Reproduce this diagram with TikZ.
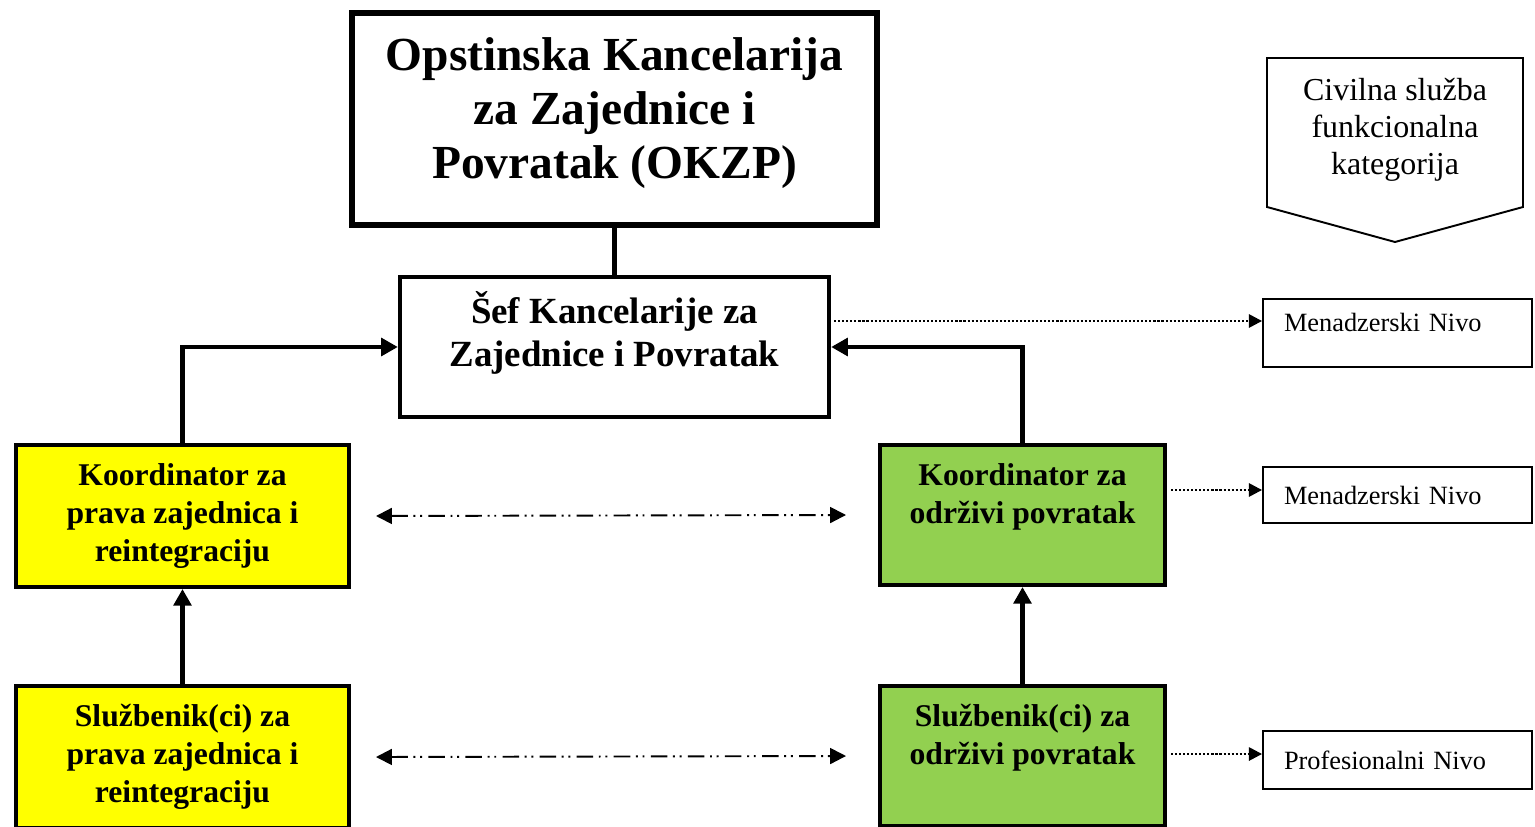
\documentclass[tikz,border=0pt]{standalone}
\usepackage{fontspec}
\setmainfont{Liberation Serif}
\usetikzlibrary{arrows.meta}
\definecolor{pravayellow}{RGB}{255,255,0}
\definecolor{povratakgreen}{RGB}{146,208,80}
\begin{document}
\begin{tikzpicture}[x=0.02cm,y=-0.02cm,
        okzp/.style={draw,line width=3.7pt,align=center,minimum width=10.5cm,minimum height=4.24cm,font=\fontsize{27}{30.6}\selectfont\bfseries},
        sef/.style={draw,line width=2.5pt,align=center,minimum width=8.58cm,minimum height=2.8cm,font=\fontsize{21}{24.5}\selectfont\bfseries},
        unit/.style={draw,line width=2.3pt,align=center,inner sep=0pt,font=\fontsize{18}{21.6}\selectfont\bfseries},
        prava/.style={unit,fill=pravayellow,minimum width=6.66cm,minimum height=2.84cm},
        odrzivi/.style={unit,fill=povratakgreen,minimum width=5.7cm,minimum height=2.8cm},
        nivo/.style={draw,line width=1.1pt,align=left,text width=4.54cm,inner xsep=0.42cm,font=\fontsize{15}{18}\selectfont},
        veza/.style={line width=2.8pt},
        vezaarrow/.style={veza,-{Triangle[length=9.5pt,width=10pt]}},
        saradnja/.style={line width=1.1pt,dash pattern=on 9.4pt off 3.2pt on 1.1pt off 2.7pt on 1.1pt off 3.6pt,>={Triangle[length=9pt,width=9pt]},<->},
        nivoarrow/.style={line width=1.4pt,dash pattern=on 1.2pt off 1.1pt,-{Triangle[length=7.5pt,width=7.5pt]}}]
        \useasboundingbox (0,0) rectangle (1535,827);

        \node[okzp] (okzp) at (614.5,119) {Opstinska Kancelarija\\za Zajednice i\\Povratak (OKZP)\\[-18pt]\mbox{}};
        \node[sef] (sef) at (614.5,347) {Šef Kancelarije za\\Zajednice i Povratak\\[-4pt]\mbox{}};
        \node[prava] (koordprava) at (182.5,516) {Koordinator za\\prava zajednica i\\reintegraciju};
        \node[odrzivi] (koordpovratak) at (1022.5,515) {Koordinator za\\održivi povratak\\[3pt]\mbox{}};
        \node[prava,anchor=north] (sluzprava) at (182.5,684) {Službenik(ci) za\\prava zajednica i\\reintegraciju};
        \node[odrzivi,anchor=north] (sluzpovratak) at (1022.5,684) {Službenik(ci) za\\održivi povratak\\[3pt]\mbox{}};

        \node[nivo,minimum height=1.36cm] (menadzer1) at (1397.5,333) {Menadzerski Nivo\\[-6pt]\mbox{}};
        \node[nivo,minimum height=1.12cm] (menadzer2) at (1397.5,495) {Menadzerski Nivo};
        \node[nivo,minimum height=1.16cm] (profesional) at (1397.5,760) {Profesionalni Nivo};

        \draw[line width=1.1pt] (1267,58) -- (1523,58) -- (1523,207) -- (1395,242) -- (1267,207) -- cycle;
        \node[font=\fontsize{18.2}{21}\selectfont,align=center] (kategorija) at (1395,130) {Civilna služba\\funkcionalna\\kategorija};

        \draw[veza] (okzp) -- (sef);
        \draw[vezaarrow] (koordprava.north) |- (sef.west);
        \draw[vezaarrow] (koordpovratak.north) |- (sef.east);
        \draw[vezaarrow] (sluzprava) -- (koordprava);
        \draw[vezaarrow] (sluzpovratak) -- (koordpovratak);

        \draw[saradnja] ([xshift=0.5cm]koordprava.east) -- ([xshift=-0.64cm]koordpovratak.west);
        \draw[saradnja] ([xshift=0.5cm]sluzprava.east) -- ([xshift=-0.64cm]sluzpovratak.west);

        \coordinate (sefnivo) at ([shift={(3,-26)}]sef.east);
        \coordinate (koordnivo) at ([shift={(4,-25)}]koordpovratak.east);
        \coordinate (sluznivo) at ([shift={(4,-2)}]sluzpovratak.east);
        \draw[nivoarrow] (sefnivo) -- (sefnivo -| menadzer1.west);
        \draw[nivoarrow] (koordnivo) -- (koordnivo -| menadzer2.west);
        \draw[nivoarrow] (sluznivo) -- (sluznivo -| profesional.west);
    \end{tikzpicture}
\end{document}
